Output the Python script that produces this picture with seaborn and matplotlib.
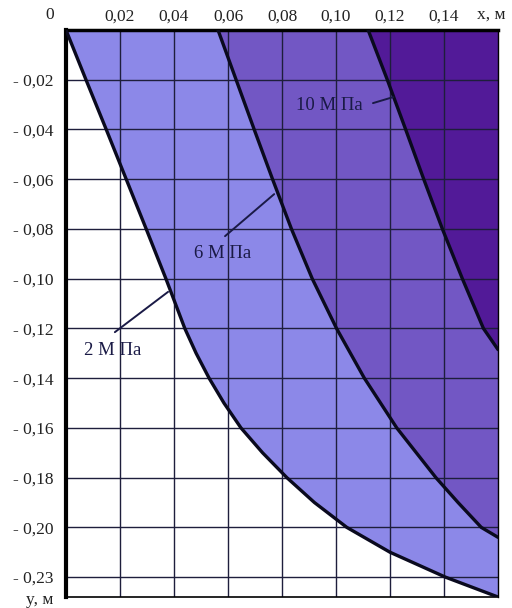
import matplotlib
matplotlib.use('Agg')
import matplotlib.pyplot as plt
import seaborn as sns
import numpy as np
import pandas as pd

# boundary curves (x, y in metres)
p2_x = [0, 0.0074, 0.0149, 0.0223, 0.0297, 0.0370, 0.0405, 0.0440, 0.0482, 0.0530, 0.0585,
        0.0648, 0.0728, 0.0818, 0.0920, 0.1040, 0.1200, 0.1405, 0.1600]
p2_y = [0, -0.02, -0.04, -0.06, -0.08, -0.10, -0.11, -0.12, -0.13, -0.14, -0.15,
        -0.16, -0.17, -0.18, -0.19, -0.20, -0.21, -0.22, -0.228]

p6_x = [0.0563, 0.0630, 0.0697, 0.0765, 0.0835, 0.0912, 0.1002, 0.1105, 0.1225, 0.1370,
        0.1452, 0.1538, 0.1600]
p6_y = [0, -0.02, -0.04, -0.06, -0.08, -0.10, -0.12, -0.14, -0.16, -0.18,
        -0.19, -0.20, -0.2040]

p10_x = [0.1119, 0.1190, 0.1258, 0.1325, 0.1394, 0.1468, 0.1546, 0.1600]
p10_y = [0, -0.02, -0.04, -0.06, -0.08, -0.10, -0.12, -0.1285]

x_ticks = [0.02, 0.04, 0.06, 0.08, 0.10, 0.12, 0.14]
x_labels = ['0,02', '0,04', '0,06', '0,08', '0,10', '0,12', '0,14']
y_ticks = [-0.02, -0.04, -0.06, -0.08, -0.10, -0.12, -0.14, -0.16, -0.18, -0.20, -0.22]
y_labels = ['- 0,02', '- 0,04', '- 0,06', '- 0,08', '- 0,10', '- 0,12', '- 0,14',
            '- 0,16', '- 0,18', '- 0,20', '- 0,23']

curve_names = ['2 М Па', '6 М Па', '10 М Па']

x_max = 0.16
y_min = -0.228

sns.set_style('white')
plt.rcParams['font.family'] = ['Liberation Serif', 'DejaVu Serif']

fig = plt.figure(figsize=(5.12, 6.08), dpi=100)
ax = fig.add_axes([66 / 512, 1 - 597 / 608, 432 / 512, 567 / 608])

# filled zones between the curves
light = '#8c88e8'
medium = '#7257c4'
dark = '#521a98'

ax.fill(np.concatenate([p2_x, [x_max], p6_x[::-1]]),
        np.concatenate([p2_y, [p6_y[-1]], p6_y[::-1]]),
        color=light, lw=0, zorder=1)
ax.fill(np.concatenate([p6_x, [x_max], p10_x[::-1]]),
        np.concatenate([p6_y, [p10_y[-1]], p10_y[::-1]]),
        color=medium, lw=0, zorder=1)
ax.fill(np.concatenate([p10_x, [x_max]]),
        np.concatenate([p10_y, [0]]),
        color=dark, lw=0, zorder=1)

# grid
for xv in x_ticks:
    ax.axvline(xv, color='#1e1e3c', lw=1.0, zorder=2)
for yv in y_ticks:
    ax.axhline(yv, color='#1e1e3c', lw=1.0, zorder=2)

curves = pd.concat([
    pd.DataFrame({'x': p2_x, 'y': p2_y, 'p': curve_names[0]}),
    pd.DataFrame({'x': p6_x, 'y': p6_y, 'p': curve_names[1]}),
    pd.DataFrame({'x': p10_x, 'y': p10_y, 'p': curve_names[2]}),
])
sns.lineplot(data=curves, x='x', y='y', units='p', estimator=None, sort=False,
             color='#0a0a1e', lw=2.4, ax=ax, zorder=4, legend=False)

ax.set_xlim(0, x_max)
ax.set_ylim(y_min, 0)
ax.xaxis.tick_top()
ax.set_xticks(x_ticks)
ax.set_xticklabels(x_labels)
ax.set_yticks(y_ticks)
ax.set_yticklabels(y_labels)
ax.tick_params(axis='both', length=0, labelsize=12.5, colors='#222222')
ax.tick_params(axis='x', pad=4)
ax.tick_params(axis='y', pad=9)
ax.set_xlabel('')
ax.set_ylabel('')

for side in ['left', 'top', 'right', 'bottom']:
    ax.spines[side].set_visible(True)
    ax.spines[side].set_color('black')
ax.spines['left'].set_linewidth(3)
ax.spines['top'].set_linewidth(2.5)
ax.spines['right'].set_linewidth(1)
ax.spines['bottom'].set_linewidth(1.2)

fig.text(50 / 512, 1 - 15 / 608, '0', ha='center', va='center', fontsize=12.5, color='#222222')
fig.text(491 / 512, 1 - 15 / 608, 'x, м', ha='center', va='center', fontsize=12.5, color='#222222')
fig.text(40 / 512, 1 - 600 / 608, 'y, м', ha='center', va='center', fontsize=12.5, color='#222222')

# curve labels with leader lines
lab_color = '#1a1a46'
labels_at = [(0.0174, -0.1288), (0.0581, -0.0897), (0.0974, -0.0302)]
leaders = [((0.0181, 0.0378), (-0.1215, -0.1053)),
           ((0.0589, 0.0771), (-0.0829, -0.0660)),
           ((0.1137, 0.1211), (-0.0294, -0.0270))]
for name, (tx, ty), (lx, ly) in zip(curve_names, labels_at, leaders):
    ax.text(tx, ty, name, ha='center', va='center', fontsize=13.5, color=lab_color, zorder=5)
    ax.plot(lx, ly, color=lab_color, lw=1.4, zorder=5)

fig.savefig('out.png', dpi=100)
